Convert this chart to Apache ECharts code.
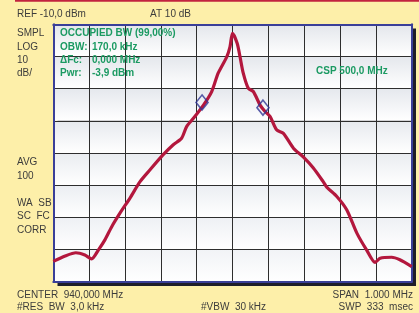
<!DOCTYPE html>
<html>
<head>
<meta charset="utf-8">
<script src="https://cdn.jsdelivr.net/npm/echarts@6/dist/echarts.min.js"></script>
<style>
  html, body { margin: 0; padding: 0; background: #fdefa9; }
  #chart { width: 419px; height: 313px; }
</style>
</head>
<body>
<div id="chart"></div>
<script>
// offset from center frequency (kHz) and trace level (dBm)
const freqOffset = [-500, -467, -437, -412, -393, -374, -356, -337, -314, -286, -258, -230,
  -194, -166, -142, -128, -109, -81, -58, -40, -16, -7, 0, 13, 21, 30, 44, 58, 77, 91,
  105, 123, 142, 170, 198, 225, 253, 263, 291, 319, 347, 374, 398, 412, 444, 467, 500];
const traceLevel = [-83.7, -82.0, -81.0, -81.7, -82.9, -80.1, -77.0, -72.9, -68.7, -64.0, -58.9, -55.2,
  -50.6, -47.5, -45.4, -41.8, -39.2, -35.1, -30.9, -25.2, -20.1, -17.0, -12.8, -15.9, -20.1, -25.2, -29.9, -30.9, -35.1, -37.1,
  -38.7, -42.8, -43.9, -48.5, -51.3, -54.6, -58.9, -60.6, -63.5, -67.7, -74.9, -80.1, -84.0, -82.7, -82.4, -83.2, -85.3];

// occupied bandwidth markers
const markerOffset = [-85, 85];
const markerLevel = [-34.3, -35.9];

const refLevel = -10;
const dbPerDiv = 10;
const spanKHz = 1000;

const leftLabels = [
  ["SMPL", 33], ["LOG", 47], ["10", 60], ["dB/", 73],
  ["AVG", 162], ["100", 176], ["WA  SB", 203], ["SC  FC", 216], ["CORR", 230]
];
const measLabels = [
  ["OBW:", "170,0 kHz", 47],
  ["\u0394Fc:", "0,000 MHz", 60],
  ["Pwr:", "-3,9 dBm", 73]
];

const FONT = "'Liberation Sans', Arial, sans-serif";
const GREY = "#3c3c3c";
const GREEN = "#1b9a62";
const BLUE = "#3a3f98";

function txt(x, y, text, opts) {
  opts = opts || {};
  return {
    type: "text", x: x, y: y, z: 20,
    style: {
      text: text,
      fill: opts.fill || GREY,
      font: (opts.bold ? "bold " : "") + "10px " + FONT,
      textAlign: opts.align || "left",
      textVerticalAlign: "middle"
    }
  };
}

const graphics = [
  { type: "rect", shape: { x: 15, y: 0, width: 404, height: 1.8 }, style: { fill: "#c2233f" } },
  { type: "rect", z: -5, shape: { x: 57.5, y: 28.5, width: 358.5, height: 257.5 }, style: { fill: "#1e1e2a" } },
  txt(17, 14, "REF -10,0 dBm"),
  txt(150, 14, "AT 10 dB"),
  txt(17, 295, "CENTER  940,000 MHz"),
  txt(17, 307.5, "#RES  BW  3,0 kHz"),
  txt(201, 307.5, "#VBW  30 kHz"),
  txt(413, 295, "SPAN  1.000 MHz", { align: "right" }),
  txt(413, 307.5, "SWP  333  msec", { align: "right" }),
  txt(60, 33, "OCCUPIED BW (99,00%)", { fill: GREEN, bold: true }),
  txt(316, 71, "CSP 500,0 MHz", { fill: GREEN, bold: true })
];
leftLabels.forEach(function (l) { graphics.push(txt(17, l[1], l[0])); });
measLabels.forEach(function (m) {
  graphics.push(txt(60, m[2], m[0], { fill: GREEN, bold: true }));
  graphics.push(txt(92, m[2], m[1], { fill: GREEN, bold: true }));
});

// each horizontal band: light grey at its top fading to white; bands get lighter toward the bottom
const bandTops = ["#f1f3f6", "#eef0f4", "#ebeef2", "#e9ecf0", "#e6e9ee", "#e5e8ed", "#e4e7ec", "#e3e6eb"];
const bandFills = bandTops.map(function (c) {
  return {
    type: "linear", x: 0, y: 0, x2: 0, y2: 1,
    colorStops: [{ offset: 0, color: c }, { offset: 1, color: "#ffffff" }]
  };
});

const chart = echarts.init(document.getElementById("chart"));
chart.setOption({
  animation: false,
  backgroundColor: "#fdefa9",
  grid: { left: 53.3, right: 7.3, top: 24.3, bottom: 31.3 },
  xAxis: [{
    type: "value",
    min: -spanKHz / 2, max: spanKHz / 2, interval: spanKHz / 10,
    axisLine: { show: true, onZero: false, lineStyle: { color: BLUE, width: 2 } },
    axisTick: { show: false }, axisLabel: { show: false },
    splitLine: { show: true, showMinLine: false, showMaxLine: false, lineStyle: { color: "#2e2e2e", width: 1 } }
  }, {
    type: "value", position: "top",
    min: -spanKHz / 2, max: spanKHz / 2,
    axisLine: { show: true, onZero: false, lineStyle: { color: BLUE, width: 2 } },
    axisTick: { show: false }, axisLabel: { show: false }, splitLine: { show: false }
  }],
  yAxis: [{
    type: "value",
    min: refLevel - 8 * dbPerDiv, max: refLevel, interval: dbPerDiv,
    axisLine: { show: true, onZero: false, lineStyle: { color: BLUE, width: 2 } },
    axisTick: { show: false }, axisLabel: { show: false },
    splitLine: { show: true, showMinLine: false, showMaxLine: false, lineStyle: { color: "#2e2e2e", width: 1 } },
    splitArea: { show: true, areaStyle: { color: bandFills } }
  }, {
    type: "value", position: "right",
    min: refLevel - 8 * dbPerDiv, max: refLevel,
    axisLine: { show: true, onZero: false, lineStyle: { color: BLUE, width: 2 } },
    axisTick: { show: false }, axisLabel: { show: false }, splitLine: { show: false }
  }],
  series: [{
    type: "line",
    data: freqOffset.map(function (f, i) { return [f, traceLevel[i]]; }),
    smooth: 0.25,
    symbol: "none",
    lineStyle: { color: "#b3173d", width: 3.2 },
    z: 5
  }, {
    type: "scatter",
    data: markerOffset.map(function (f, i) { return [f, markerLevel[i]]; }),
    symbol: "diamond",
    symbolSize: [12, 15],
    itemStyle: { color: "rgba(0,0,0,0)", borderColor: "#2f3594", borderWidth: 1.6 },
    z: 6
  }],
  graphic: graphics
});
</script>
</body>
</html>
